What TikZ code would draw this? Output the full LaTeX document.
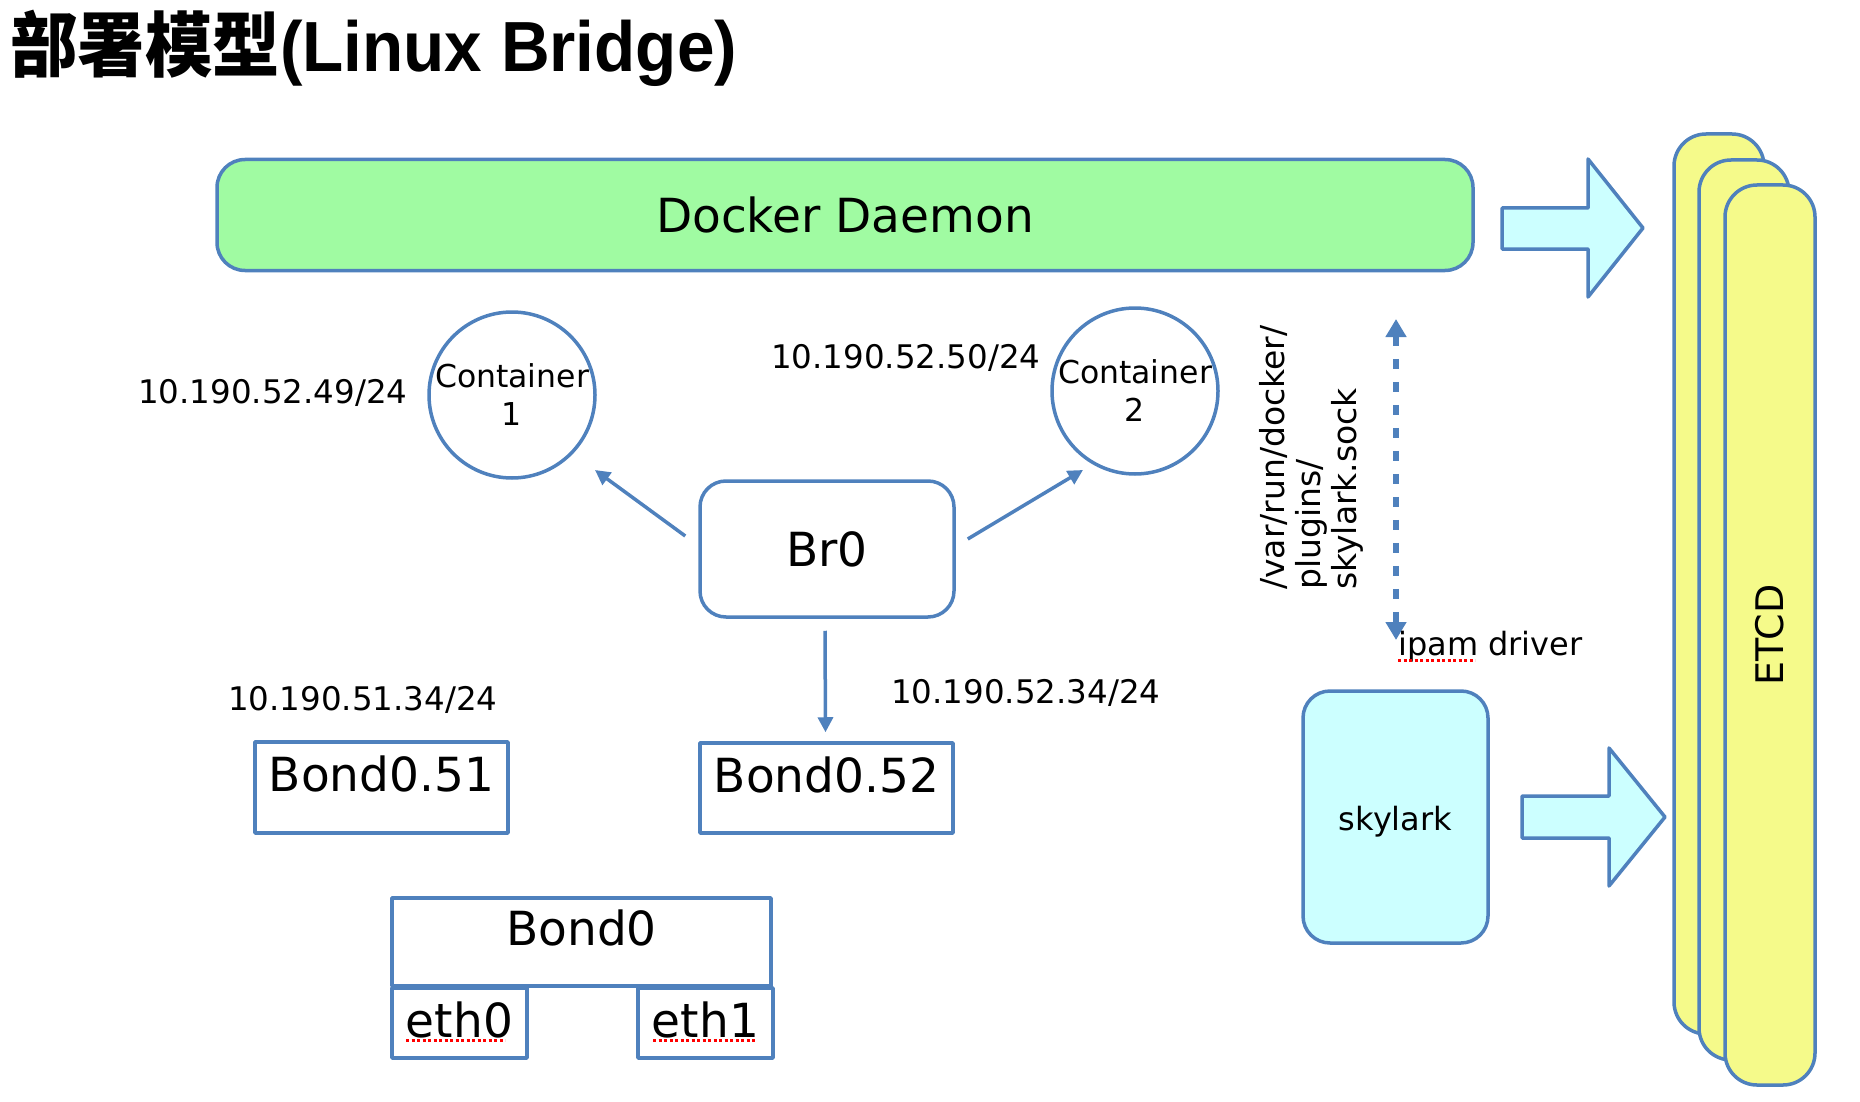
\documentclass[tikz,border=0pt]{standalone}
\usepackage{fontspec}
\setmainfont{DejaVu Sans}
\newfontfamily\titlefont{Liberation Sans}
\newfontfamily\cjkfont{Noto Sans CJK SC}
\usetikzlibrary{arrows.meta,calc}
\definecolor{bl}{HTML}{4F81BD}
\definecolor{dgreen}{HTML}{A0FBA2}
\definecolor{lcyan}{HTML}{CCFFFF}
\definecolor{lyellow}{HTML}{F5FA8A}
\begin{document}
\begin{tikzpicture}[x=1pt,y=-1pt,
  bord/.style={draw=bl, line width=3.5},
  bigtxt/.style={font=\fontsize{47}{56}\selectfont},
  smalltxt/.style={font=\fontsize{32.5}{38}\selectfont},
  cont/.style={bord, circle, minimum size=166, inner sep=0, align=center, font=\fontsize{31.5}{38}\selectfont},
  sqbox/.style={bord, rectangle, inner sep=0, bigtxt, text height=36, line join=round},
  conn/.style={draw=bl, line width=3.5, -{Triangle[length=15pt,width=15pt]}},
  dashconn/.style={draw=bl, line width=6, dash pattern=on 10pt off 13pt,
     {Triangle[length=18pt,width=20pt]}-{Triangle[length=18pt,width=20pt]}},
  blockarrow/.style={bord, fill=lcyan, line join=round},
  etcdbox/.style={bord, fill=lyellow, rounded corners=32, minimum width=90, minimum height=900, inner sep=0},
  spell/.style={draw=red, line width=3, dash pattern=on 3pt off 2.5pt},
  iplabel/.style={smalltxt, anchor=base west, inner sep=0}
]
\useasboundingbox (0,0) rectangle (1860,1102);

% title
\node[anchor=base west, inner sep=0] (title) at (10,72)
  {\scalebox{0.95}[1]{\fontsize{71}{80}\selectfont\bfseries\cjkfont 部署模型\titlefont (Linux Bridge)}};

% Docker daemon
\node[bord, fill=dgreen, rounded corners=28, minimum width=1256, minimum height=111, inner sep=0, bigtxt]
  (docker) at (845,215) {Docker Daemon};

% top block arrow
\draw[blockarrow] (1502,208) -- (1588,208) -- (1588,159) -- (1643,228) -- (1588,297) -- (1588,249) -- (1502,249) -- cycle;

% ETCD stack
\node[etcdbox] (etcd1) at (1719,584) {};
\node[etcdbox] (etcd2) at (1744,610) {};
\node[etcdbox, font=\fontsize{38}{44}\selectfont] (etcd3) at (1770,635) {\rotatebox{90}{ETCD}};

% containers
\node[cont] (c1) at (512,395) {Container\\1};
\node[cont] (c2) at (1135,391) {Container\\2};
\node[iplabel] (ip49) at (138,403) {10.190.52.49/24};
\node[iplabel] (ip50) at (771,368) {10.190.52.50/24};

% Br0
\node[bord, rounded corners=26, minimum width=254, minimum height=136, inner sep=0, bigtxt] (br) at (827,549) {Br0};

% bonds
\node[sqbox, minimum width=253, minimum height=91, text depth=29] (b51) at (381.5,787.5) {Bond0.51};
\node[sqbox, minimum width=253, minimum height=90, text depth=28] (b52) at (826.5,788) {Bond0.52};
\node[iplabel] (ip5134) at (228,710) {10.190.51.34/24};
\node[iplabel] (ip5234) at (891,703) {10.190.52.34/24};

\node[sqbox, minimum width=379, minimum height=88, text depth=30] (bond0) at (581.5,942) {Bond0};
\node[sqbox, minimum width=135, minimum height=70, text depth=8] (eth0) at (459.5,1023) {eth0};
\node[sqbox, minimum width=135, minimum height=70, text depth=8] (eth1) at (705.5,1023) {eth1};
\draw[spell] (406,1040) -- (505,1040);
\draw[spell] (653,1040) -- (755,1040);

% connectors
\draw[conn] ([shift={(-13,-13)}]br.west) -- ([shift={(83,75)}]c1.center);
\draw[conn] ([shift={(12,-10)}]br.east) -- ([shift={(-52,79)}]c2.center);
\draw[conn] ([shift={(-2,12)}]br.south) -- ([shift={(-1,-9)}]b52.north);

% socket
\node[rotate=90, anchor=north west, align=left, inner sep=0, font=\fontsize{33}{36}\selectfont]
  (sock) at (1259,590) {/var/run/docker/\\plugins/\\skylark.sock};
\coordinate (sockTop) at (1396,319);
\coordinate (sockBot) at (1396,640);
\draw[dashconn] (sockTop) -- (sockBot);
\node[iplabel, font=\fontsize{32}{38}\selectfont] (ipam) at (1398,655) {ipam driver};
\draw[spell] (1398,660) -- (1475,660);

% skylark
\node[bord, fill=lcyan, rounded corners=27, minimum width=185, minimum height=252, inner sep=0,
  text height=26, text depth=0, font=\fontsize{32}{38}\selectfont] (skylark) at (1395.5,817) {skylark};

% bottom block arrow
\draw[blockarrow] (1522,796) -- (1609,796) -- (1609,748) -- (1665,817) -- (1609,886) -- (1609,838) -- (1522,838) -- cycle;
\end{tikzpicture}
\end{document}
